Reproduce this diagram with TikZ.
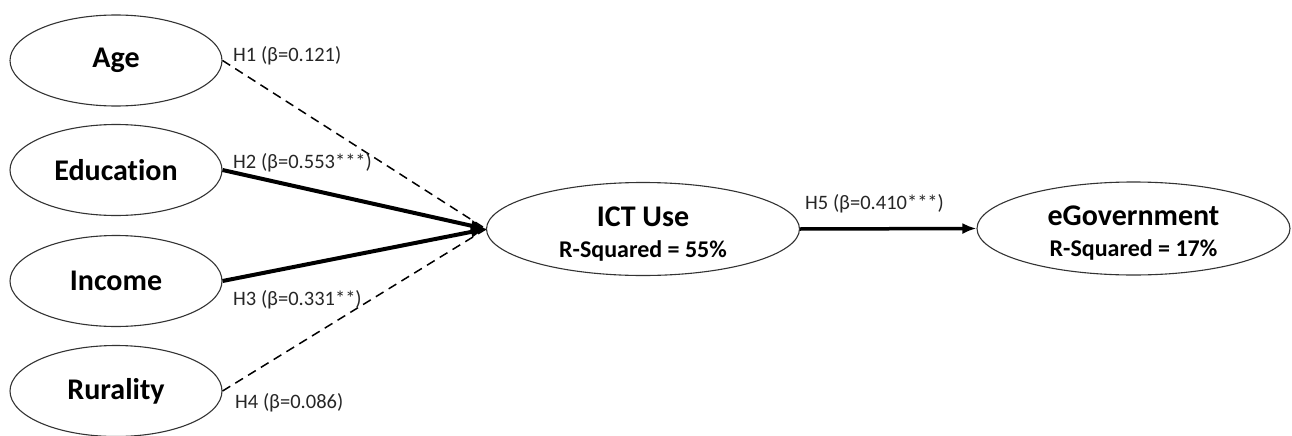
\documentclass[tikz,border=0pt]{standalone}
\usepackage{fontspec}
\setmainfont[RawFeature={-liga;-clig;-dlig}]{Carlito}
\usetikzlibrary{shapes.geometric,arrows.meta}
\tikzset{
  small/.style={ellipse,draw=black!80,line width=1.1pt,minimum width=212pt,minimum height=91pt,inner sep=0pt,
    font=\fontsize{30}{36}\selectfont\bfseries},
  big/.style={ellipse,draw=black!80,line width=1.1pt,minimum width=313pt,minimum height=93pt,inner sep=0pt,align=center,
    font=\fontsize{30}{36}\selectfont\bfseries},
  sig/.style={line width=4pt,-{Latex[length=15pt,width=12pt]}},
  ns/.style={line width=1.5pt,dash pattern=on 9pt off 6pt},
  lbl/.style={anchor=west,inner sep=0pt,font=\fontsize{20.5}{24}\selectfont,text=black!85}
}
\begin{document}
\begin{tikzpicture}[x=1pt,y=-1pt]
\useasboundingbox (0,0) rectangle (1292,436);
\node[small] (age) at (116,60.5) {Age};
\node[small] (edu) at (116,170) {Education};
\node[small] (inc) at (116,281) {Income};
\node[small] (rur) at (116,391) {Rurality};
\node[big] (ict) at (643,229) {\rule{0pt}{29pt}ICT Use\\[-5pt]{\fontsize{24}{28}\selectfont R-Squared = 55\%}};
\node[big] (egov) at (1133.5,228.5) {\rule{0pt}{29pt}eGovernment\\[-5pt]{\fontsize{24}{28}\selectfont R-Squared = 17\%}};
\draw[ns] (age.east) -- (ict.west);
\draw[ns] (rur.east) -- (ict.west);
\draw[sig] (edu.east) -- (ict.west);
\draw[sig] (inc.east) -- (ict.west);
\draw[line width=3.5pt,-{Latex[length=14pt,width=11pt]}] (ict.east) -- (egov.west);
\node[lbl] (h1) at (233,56) {H1 (β=0.121)};
\node[lbl] (h2) at (233,163) {H2 (β=0.553***)};
\node[lbl] (h3) at (233,300) {H3 (β=0.331**)};
\node[lbl] (h4) at (235,403) {H4 (β=0.086)};
\node[lbl] (h5) at (805,204) {H5 (β=0.410***)};
\end{tikzpicture}
\end{document}
